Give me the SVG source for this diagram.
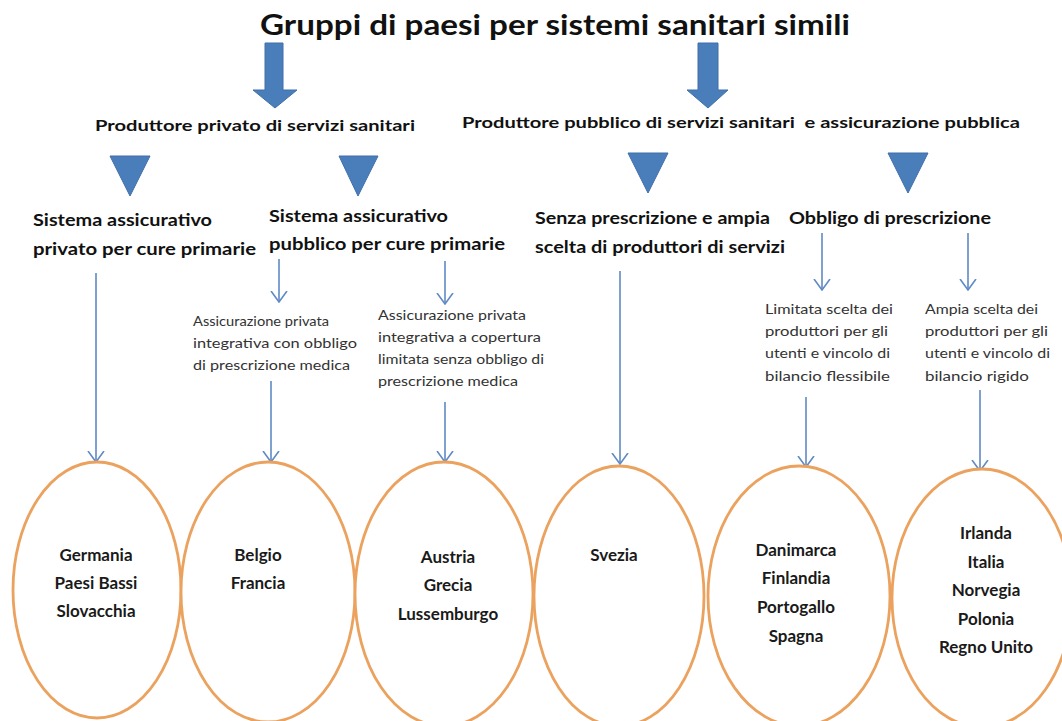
<svg xmlns="http://www.w3.org/2000/svg" width="1062" height="721" viewBox="0 0 1062 721">
<defs>
<style>
.title{font-family:Lato,"Open Sans",sans-serif;font-weight:bold;font-size:28px;fill:#111}
.hdr{font-family:Lato,"Open Sans",sans-serif;font-weight:bold;font-size:16px;fill:#111}
.sub{font-family:Lato,"Open Sans",sans-serif;font-weight:bold;font-size:17px;fill:#111}
.small{font-family:Lato,"Open Sans",sans-serif;font-size:12.5px;fill:#333}
.ctry{font-family:Lato,"Open Sans",sans-serif;font-weight:bold;font-size:17px;fill:#1a1a1a;text-anchor:middle}
.big{fill:#4a7ebb;stroke:#3f6fa8;stroke-width:1}
.thin{stroke:#5f8ac4;stroke-width:1.6;fill:none;marker-end:url(#ah)}
.ell{fill:#fff;stroke:#eba25e;stroke-width:2.8}
</style>
<marker id="ah" viewBox="0 0 12 18" refX="11" refY="9" markerWidth="12" markerHeight="18" markerUnits="userSpaceOnUse" orient="auto">
<path d="M0,1 L11,9 L0,17" fill="none" stroke="#5f8ac4" stroke-width="1.6"/>
</marker>
</defs>
<rect width="1062" height="721" fill="#fff"/>

<g id="title"><text class="title" x="260" y="35" textLength="590" lengthAdjust="spacingAndGlyphs">Gruppi di paesi per sistemi sanitari simili</text></g>

<g id="big-arrows">
<path class="big" d="M265,43 H283 V90 H297 L275,108 L253,90 H265 Z"/>
<path class="big" d="M698,43 H718 V90 H728 L708,108 L687,90 H698 Z"/>
</g>

<g id="hdr-private"><text class="hdr" x="95" y="131" textLength="320" lengthAdjust="spacingAndGlyphs">Produttore privato di servizi sanitari</text></g>
<g id="hdr-public"><text class="hdr" x="462" y="128" textLength="558" lengthAdjust="spacingAndGlyphs" xml:space="preserve">Produttore pubblico di servizi sanitari  e assicurazione pubblica</text></g>

<g id="triangles">
<path class="big" d="M110,156 H150 L130,196 Z"/>
<path class="big" d="M339,156 H378 L358,196 Z"/>
<path class="big" d="M628,153 H668 L648,193 Z"/>
<path class="big" d="M888,153 H928 L908,193 Z"/>
</g>

<g id="sub1"><text class="sub" x="33" y="226" textLength="179" lengthAdjust="spacingAndGlyphs">Sistema assicurativo</text><text class="sub" x="33" y="255" textLength="223" lengthAdjust="spacingAndGlyphs">privato per cure primarie</text></g>
<g id="sub2"><text class="sub" x="269" y="222" textLength="179" lengthAdjust="spacingAndGlyphs">Sistema assicurativo</text><text class="sub" x="269" y="250" textLength="236" lengthAdjust="spacingAndGlyphs">pubblico per cure primarie</text></g>
<g id="sub3"><text class="sub" x="535" y="224" textLength="235" lengthAdjust="spacingAndGlyphs">Senza prescrizione e ampia</text><text class="sub" x="535" y="253" textLength="250" lengthAdjust="spacingAndGlyphs">scelta di produttori di servizi</text></g>
<g id="sub4"><text class="sub" x="789" y="224" textLength="202" lengthAdjust="spacingAndGlyphs">Obbligo di prescrizione</text></g>

<g id="note1"><text class="small" x="193" y="326" textLength="136" lengthAdjust="spacingAndGlyphs">Assicurazione privata</text><text class="small" x="193" y="348" textLength="164" lengthAdjust="spacingAndGlyphs">integrativa con obbligo</text><text class="small" x="193" y="370" textLength="157" lengthAdjust="spacingAndGlyphs">di prescrizione medica</text></g>
<g id="note2"><text class="small" x="378" y="320" textLength="148" lengthAdjust="spacingAndGlyphs">Assicurazione privata</text><text class="small" x="378" y="342" textLength="163" lengthAdjust="spacingAndGlyphs">integrativa a copertura</text><text class="small" x="378" y="364" textLength="166" lengthAdjust="spacingAndGlyphs">limitata senza obbligo di</text><text class="small" x="378" y="386" textLength="140" lengthAdjust="spacingAndGlyphs">prescrizione medica</text></g>
<g id="note3"><text class="small" x="765" y="314" textLength="128" lengthAdjust="spacingAndGlyphs">Limitata scelta dei</text><text class="small" x="765" y="336" textLength="123" lengthAdjust="spacingAndGlyphs">produttori per gli</text><text class="small" x="765" y="358" textLength="125" lengthAdjust="spacingAndGlyphs">utenti e vincolo di</text><text class="small" x="765" y="381" textLength="125" lengthAdjust="spacingAndGlyphs">bilancio flessibile</text></g>
<g id="note4"><text class="small" x="925" y="314" textLength="113" lengthAdjust="spacingAndGlyphs">Ampia scelta dei</text><text class="small" x="925" y="336" textLength="123" lengthAdjust="spacingAndGlyphs">produttori per gli</text><text class="small" x="925" y="358" textLength="125" lengthAdjust="spacingAndGlyphs">utenti e vincolo di</text><text class="small" x="925" y="381" textLength="104" lengthAdjust="spacingAndGlyphs">bilancio rigido</text></g>

<g id="connectors">
<line class="thin" x1="96" y1="273" x2="96" y2="462"/>
<line class="thin" x1="279" y1="259" x2="279" y2="302"/>
<line class="thin" x1="271" y1="381" x2="271" y2="462"/>
<line class="thin" x1="445" y1="261" x2="445" y2="304"/>
<line class="thin" x1="445" y1="402" x2="445" y2="462"/>
<line class="thin" x1="620" y1="271" x2="620" y2="464"/>
<line class="thin" x1="822" y1="233" x2="822" y2="290"/>
<line class="thin" x1="806" y1="397" x2="806" y2="467"/>
<line class="thin" x1="968" y1="233" x2="968" y2="290"/>
<line class="thin" x1="980" y1="390" x2="980" y2="471"/>
</g>

<g id="e1"><ellipse class="ell" cx="97" cy="590" rx="84" ry="128"/><text class="ctry" x="96" y="561">Germania</text><text class="ctry" x="96" y="589">Paesi Bassi</text><text class="ctry" x="96" y="617">Slovacchia</text></g>
<g id="e2"><ellipse class="ell" cx="268" cy="592" rx="87" ry="130"/><text class="ctry" x="258" y="561">Belgio</text><text class="ctry" x="258" y="589">Francia</text></g>
<g id="e3"><ellipse class="ell" cx="444" cy="594" rx="89" ry="132"/><text class="ctry" x="448" y="563">Austria</text><text class="ctry" x="448" y="591">Grecia</text><text class="ctry" x="448" y="620">Lussemburgo</text></g>
<g id="e4"><ellipse class="ell" cx="619" cy="596" rx="85" ry="130"/><text class="ctry" x="614" y="561">Svezia</text></g>
<g id="e5"><ellipse class="ell" cx="799" cy="596" rx="91" ry="130"/><text class="ctry" x="796" y="556">Danimarca</text><text class="ctry" x="796" y="584">Finlandia</text><text class="ctry" x="796" y="613">Portogallo</text><text class="ctry" x="796" y="642">Spagna</text></g>
<g id="e6"><ellipse class="ell" cx="982" cy="598" rx="90" ry="129"/><text class="ctry" x="986" y="539">Irlanda</text><text class="ctry" x="986" y="568">Italia</text><text class="ctry" x="986" y="596">Norvegia</text><text class="ctry" x="986" y="625">Polonia</text><text class="ctry" x="986" y="653">Regno Unito</text></g>
</svg>
